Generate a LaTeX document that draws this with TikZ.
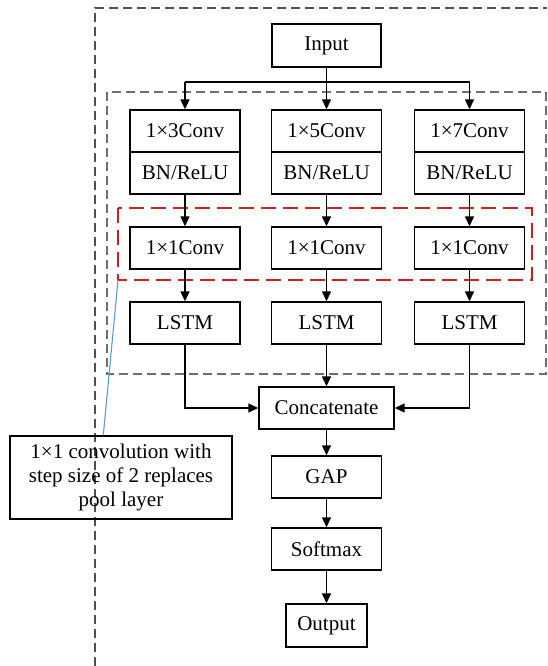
\documentclass[tikz,border=0pt]{standalone}
\usepackage{fontspec}
\setmainfont{Liberation Serif}
\usetikzlibrary{arrows.meta,calc}
\definecolor{dgray}{RGB}{80,80,80}
\definecolor{mgray}{RGB}{110,110,110}
\definecolor{dred}{RGB}{200,30,30}
\definecolor{lblue}{RGB}{91,155,213}
\begin{document}
\begin{tikzpicture}[x=1pt,y=-1pt,
  box/.style={draw,line width=1.4pt,minimum height=42pt,minimum width=110pt,inner sep=0pt,
    font=\fontsize{21}{24}\selectfont},
  arr/.style={-{Triangle[length=10pt,width=9pt]},line width=1.4pt},
  ln/.style={line width=1.4pt},
  gdash/.style={draw=dgray,line width=1.1pt,dash pattern=on 9pt off 5pt},
  rdash/.style={draw=dred,line width=1.4pt,dash pattern=on 15pt off 7pt}]
\useasboundingbox (0,0) rectangle (547,666);
% dashed frames
\draw[gdash] (95,666) -- (95,8) -- (547,8);
\draw[gdash,draw=mgray] (107,92) rectangle (546,374);
\draw[rdash] (118,208) rectangle (532,280);
% nodes
\node[box,minimum width=109pt,minimum height=43pt] (in) at (326.5,45.5) {Input};
\node[box] (c3a) at (185,131) {1×3Conv};
\node[box] (c3b) at (185,173) {BN/ReLU};
\node[box] (c5a) at (326.5,131) {1×5Conv};
\node[box] (c5b) at (326.5,173) {BN/ReLU};
\node[box] (c7a) at (469.5,131) {1×7Conv};
\node[box] (c7b) at (469.5,173) {BN/ReLU};
\node[box] (d3) at (185,248) {1×1Conv};
\node[box] (d5) at (326.5,248) {1×1Conv};
\node[box] (d7) at (469.5,248) {1×1Conv};
\node[box] (l3) at (185,323) {LSTM};
\node[box] (l5) at (326.5,323) {LSTM};
\node[box] (l7) at (469.5,323) {LSTM};
\node[box,minimum width=135pt] (cat) at (326.5,408) {Concatenate};
\node[box] (gap) at (326.5,477) {GAP};
\node[box] (sm) at (326.5,549) {Softmax};
\node[box,minimum width=81pt,minimum height=43pt] (out) at (326.5,625.5) {Output};
\node[box,minimum width=222pt,minimum height=83pt,align=center] (co) at (121,477.5)
  {1×1 convolution with\\step size of 2 replaces\\pool layer};
% connectors
\coordinate (br) at (326.5,82);
\draw[arr] (in) -- (c5a);
\draw[ln] (br -| c3a) -- (br -| c7a);
\draw[arr] (br -| c3a) -- (c3a);
\draw[arr] (br -| c7a) -- (c7a);
\draw[arr] (c3b) -- (d3);
\draw[arr] (c5b) -- (d5);
\draw[arr] (c7b) -- (d7);
\draw[arr] (d3) -- (l3);
\draw[arr] (d5) -- (l5);
\draw[arr] (d7) -- (l7);
\draw[arr] (l3) |- (cat);
\draw[arr] (l5) -- (cat);
\draw[arr] (l7) |- (cat);
\draw[arr] (cat) -- (gap);
\draw[arr] (gap) -- (sm);
\draw[arr] (sm) -- (out);
% callout leader
\coordinate (rc) at (118,280);
\draw[draw=lblue,line width=1.1pt] (rc) -- ($(co.north west)+(94,0)$);
\end{tikzpicture}
\end{document}
